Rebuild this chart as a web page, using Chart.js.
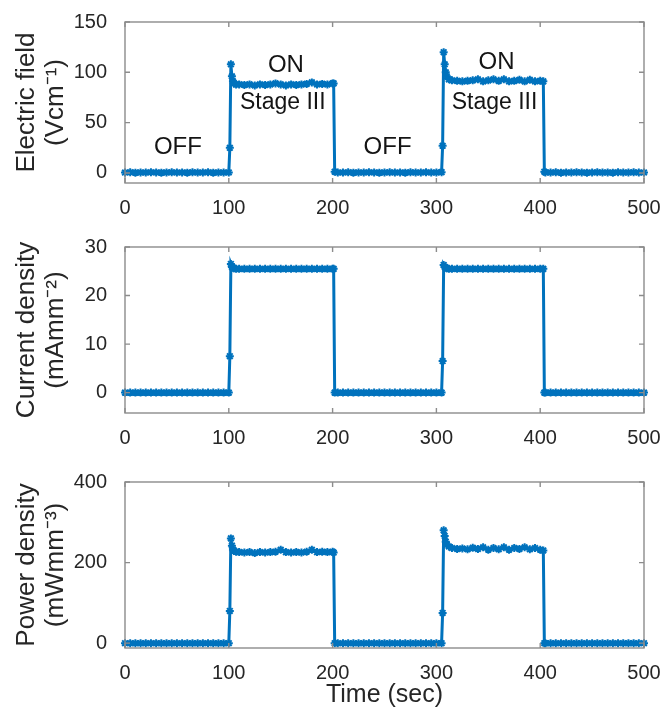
<!DOCTYPE html>
<html>
<head>
<meta charset="utf-8">
<script src="https://cdn.jsdelivr.net/npm/chart.js@4/dist/chart.umd.min.js"></script>
<style>
  html, body { margin: 0; padding: 0; background: #ffffff; }
  #wrap { position: relative; width: 667px; height: 721px; overflow: hidden; background: #ffffff; }
  .panel { position: absolute; left: 0; }
</style>
</head>
<body>
<div id="wrap">
  <div class="panel" style="top:0px"><canvas id="fieldChart" width="667" height="225"></canvas></div>
  <div class="panel" style="top:225px"><canvas id="currentChart" width="667" height="230"></canvas></div>
  <div class="panel" style="top:455px"><canvas id="powerChart" width="667" height="266"></canvas></div>
</div>
<script>
// Sample times (s)
const timeSec = [
  0,5,10,15,20,25,30,35,40,45,50,55,60,65,70,75,80,85,90,95,100,
  101,102,103,104,105,107,110,115,120,125,130,135,140,145,150,155,160,165,170,175,180,185,190,195,200,
  201,202,205,210,215,220,225,230,235,240,245,250,255,260,265,270,275,280,285,290,295,300,305,
  306,307,308,309,310,312,315,320,325,330,335,340,345,350,355,360,365,370,375,380,385,390,395,400,
  403,404,405,410,415,420,425,430,435,440,445,450,455,460,465,470,475,480,485,490,495,500
];

// Electric field (V/cm)
const fieldE = [
  0.4,0.6,0.3,0.5,0.4,0.6,0.5,0.3,0.5,0.6,0.4,0.5,0.3,0.6,0.4,0.5,0.6,0.3,0.5,0.4,0.5,
  25,108,96,91,89,88,88,87.5,88,87,88,87.5,88,89,88,87,88,87.5,88,88.5,90,88,88.5,88,89,
  89,1.2,0.5,0.4,0.6,0.3,0.5,0.4,0.6,0.5,0.3,0.5,0.6,0.4,0.5,0.3,0.6,0.4,0.5,0.6,0.4,0.5,0.8,
  27,120,108,100,96,93,92,91.5,91,91.5,92,93,91,92,93,91.5,93,91,91.5,92.5,91,92.5,91,91.5,
  91,1.2,0.5,0.4,0.6,0.3,0.5,0.4,0.6,0.5,0.3,0.5,0.6,0.4,0.5,0.3,0.6,0.4,0.5,0.6,0.4,0.5
];

// Current density (mA/mm^2)
const currentJ = [
  0,0,0,0,0,0,0,0,0,0,0,0,0,0,0,0,0,0,0,0,0,
  7.5,26.5,25.9,25.7,25.6,25.5,25.5,25.5,25.5,25.5,25.5,25.5,25.5,25.5,25.5,25.5,25.5,25.5,25.5,25.5,25.5,25.5,25.5,25.5,25.5,
  25.5,0,0,0,0,0,0,0,0,0,0,0,0,0,0,0,0,0,0,0,0,0,0,
  6.5,26.3,25.9,25.7,25.6,25.5,25.5,25.5,25.5,25.5,25.5,25.5,25.5,25.5,25.5,25.5,25.5,25.5,25.5,25.5,25.5,25.5,25.5,25.5,
  25.5,0,0,0,0,0,0,0,0,0,0,0,0,0,0,0,0,0,0,0,0,0
];

// Power density (mW/mm^3)
const powerP = [
  0,0,0,0,0,0,0,0,0,0,0,0,0,0,0,0,0,0,0,0,0,
  80,260,242,232,229,227,226,225,226,224,226,225,226,227,232,226,225,226,225,227,232,226,227,226,227,
  225,0,0,0,0,0,0,0,0,0,0,0,0,0,0,0,0,0,0,0,0,0,0,
  75,280,266,252,245,240,236,234,235,233,237,234,238,232,236,233,238,232,236,234,238,233,236,232,
  230,0,0,0,0,0,0,0,0,0,0,0,0,0,0,0,0,0,0,0,0,0
];

// Tick values
const timeTicks = [0, 100, 200, 300, 400, 500];
const fieldTicks = [0, 50, 100, 150];
const currentTicks = [0, 10, 20, 30];
const powerTicks = [0, 200, 400];

// Phase notes on the field panel (time, value)
const noteText = ['OFF', 'ON', 'Stage III', 'OFF', 'ON', 'Stage III'];
const noteTime = [51, 155, 152, 253, 358, 356];
const noteValue = [25, 107, 70, 25, 110, 70];

const LINE_BLUE = '#0072BD';
const TEXT_GREY = '#262626';
const FONT = '"Liberation Sans", Arial, sans-serif';

// MATLAB-like boxed axes with inward ticks on all four sides
const boxAxes = {
  id: 'boxAxes',
  afterDatasetsDraw(chart) {
    const { ctx, chartArea: a, scales: { x, y } } = chart;
    ctx.save();
    ctx.strokeStyle = '#8c8c8c';
    ctx.lineWidth = 1.4;
    ctx.strokeRect(a.left, a.top, a.right - a.left, a.bottom - a.top);
    ctx.beginPath();
    x.ticks.forEach(t => {
      const px = x.getPixelForValue(t.value);
      ctx.moveTo(px, a.bottom); ctx.lineTo(px, a.bottom - 5);
      ctx.moveTo(px, a.top); ctx.lineTo(px, a.top + 5);
    });
    y.ticks.forEach(t => {
      const py = y.getPixelForValue(t.value);
      ctx.moveTo(a.left, py); ctx.lineTo(a.left + 5, py);
      ctx.moveTo(a.right, py); ctx.lineTo(a.right - 5, py);
    });
    ctx.stroke();
    ctx.restore();
  }
};

const phaseNotes = {
  id: 'phaseNotes',
  afterDatasetsDraw(chart) {
    const { ctx, scales: { x, y } } = chart;
    ctx.save();
    ctx.fillStyle = '#141414';
    ctx.textAlign = 'center';
    ctx.textBaseline = 'middle';
    noteText.forEach((txt, i) => {
      const size = txt.startsWith('Stage') ? 23 : 24;
      ctx.font = size + 'px ' + FONT;
      ctx.fillText(txt, x.getPixelForValue(noteTime[i]), y.getPixelForValue(noteValue[i]));
    });
    ctx.restore();
  }
};

function makePanel(id, series, yTicks, yMin, yMax, yTitle, padTop, padBottom, xAxisHeight, xTitle, extraPlugins) {
  const points = series.map((v, i) => ({ x: timeSec[i], y: v }));
  return new Chart(document.getElementById(id), {
    type: 'line',
    data: {
      datasets: [{
        data: points,
        borderColor: LINE_BLUE,
        backgroundColor: LINE_BLUE,
        borderWidth: 3,
        tension: 0,
        pointStyle: 'star',
        pointRadius: 4,
        pointBorderWidth: 2,
        pointBorderColor: LINE_BLUE,
        pointBackgroundColor: LINE_BLUE,
        clip: 8
      }]
    },
    options: {
      responsive: false,
      animation: false,
      devicePixelRatio: 1,
      layout: { padding: { left: 0, right: 23, top: padTop, bottom: padBottom } },
      plugins: { legend: { display: false }, tooltip: { enabled: false } },
      scales: {
        x: {
          type: 'linear',
          min: 0,
          max: 500,
          afterBuildTicks: s => { s.ticks = timeTicks.map(v => ({ value: v })); },
          afterFit: s => { s.height = xAxisHeight; },
          grid: { display: false },
          border: { display: false },
          ticks: { autoSkip: false, maxRotation: 0, padding: 5, color: TEXT_GREY, font: { family: FONT, size: 20 } },
          title: xTitle ? {
            display: true, text: xTitle, color: TEXT_GREY,
            font: { family: FONT, size: 25, lineHeight: 1.15 },
            padding: { top: 0, bottom: 9 }
          } : { display: false }
        },
        y: {
          type: 'linear',
          min: yMin,
          max: yMax,
          afterBuildTicks: s => { s.ticks = yTicks.map(v => ({ value: v })); },
          afterFit: s => { s.width = 125; },
          grid: { display: false },
          border: { display: false },
          ticks: { padding: 10, color: TEXT_GREY, font: { family: FONT, size: 20 } },
          title: {
            display: true, text: yTitle, color: TEXT_GREY,
            font: { family: FONT, size: 26, lineHeight: 1.12 },
            padding: { top: 12, bottom: 0 }
          }
        }
      }
    },
    plugins: [boxAxes].concat(extraPlugins || [])
  });
}

makePanel('fieldChart', fieldE, fieldTicks, -10, 150, ['Electric field', '(Vcm⁻¹)'], 17, 2, 40, null, [phaseNotes]);
makePanel('currentChart', currentJ, currentTicks, -4.2, 30, ['Current density', '(mAmm⁻²)'], 17, 2, 40, null);
makePanel('powerChart', powerP, powerTicks, -12, 400, ['Power density', '(mWmm⁻³)'], 27, 3, 70, 'Time (sec)');
</script>
</body>
</html>
